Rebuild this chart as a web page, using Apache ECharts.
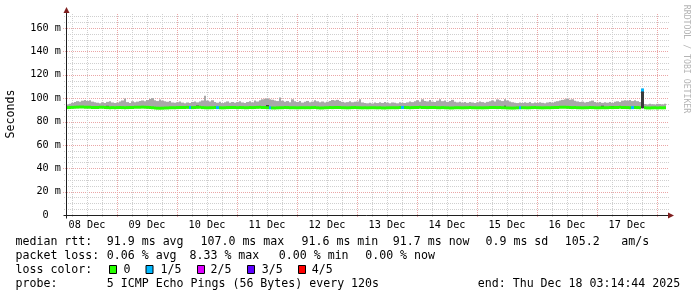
<!DOCTYPE html>
<html><head><meta charset="utf-8">
<script src="https://cdn.jsdelivr.net/npm/echarts@6/dist/echarts.min.js"></script>
<style>html,body{margin:0;padding:0;background:#fff}#c{width:697px;height:297px}</style>
</head><body><div id="c"></div>
<script>
// ---- data (x in hours after 08 Dec 00:00, one bin per hour) ----
const startHour = 3.6;
const spanHours = 240;
const yMax = 172;
const dayLabels = ['08 Dec','09 Dec','10 Dec','11 Dec','12 Dec','13 Dec','14 Dec','15 Dec','16 Dec','17 Dec'];
const dayLabelHours = [12,36,60,84,108,132,156,180,204,228];
const yTickValues = [0,20,40,60,80,100,120,140,160];

// max ping (top of smoke), ms, per hourly bin
const smokeTop = [
 94.6,95.2,96.0,96.8,97.4,96.9,97.8,98.4,97.6,98.2,97.0,96.5,96.1,95.7,96.4,95.9,96.8,97.3,96.3,95.8,96.2,97.1,98.0,99.6,
 96.6,95.9,97.3,96.5,97.0,97.6,98.0,97.3,98.4,99.2,100.0,98.1,97.5,98.8,97.9,97.3,96.9,97.5,96.3,96.0,96.5,97.1,96.2,95.7,
 96.3,95.9,96.7,97.1,96.4,97.2,98.0,102.0,97.9,97.1,98.2,96.6,96.1,96.9,95.8,96.5,97.2,96.1,96.7,96.0,96.6,97.4,96.3,95.9,
 96.7,97.3,96.4,97.9,97.1,98.2,99.0,99.4,99.8,99.0,98.6,98.0,97.5,100.6,97.8,96.9,97.5,96.5,99.0,97.3,96.7,97.5,96.2,96.9,
 97.6,96.4,97.0,98.3,97.3,96.5,97.1,96.3,96.9,97.6,98.4,97.9,98.5,97.5,96.8,96.2,96.6,97.3,96.5,96.9,97.1,99.0,96.3,95.9,
 95.6,96.0,95.5,96.2,95.8,96.4,95.9,96.6,96.1,95.7,96.3,96.0,95.6,96.5,96.0,95.8,96.4,97.1,96.6,97.4,98.2,97.0,99.0,97.6,
 97.2,98.4,97.0,96.6,97.8,99.0,97.4,98.0,96.8,97.5,98.5,97.0,96.4,96.9,96.2,96.6,96.0,96.7,96.3,95.9,96.4,97.2,96.6,96.1,
 96.8,97.4,98.0,97.2,98.9,98.2,97.5,99.0,98.0,97.2,96.5,96.0,95.8,96.3,95.9,96.4,96.0,96.6,95.7,96.2,95.9,96.5,96.0,95.6,
 96.3,96.8,96.2,97.0,97.4,97.9,98.5,99.1,99.6,98.6,99.0,97.8,97.2,96.6,97.0,96.3,96.7,97.4,97.9,96.8,96.2,96.6,96.0,96.4,
 96.1,96.7,96.0,96.9,97.3,96.7,97.8,98.3,97.9,98.5,97.5,98.2,97.4,96.8,108.0,95.0,94.6,95.3,94.8,94.5,95.1,94.9,94.7,95.2
];

// median rtt, ms, per hourly bin
const medianRtt = [
 91.9,92.0,92.1,92.2,92.3,92.4,92.4,92.3,92.2,92.1,92.0,91.9,92.0,92.1,92.2,92.0,91.9,91.8,91.9,91.8,91.9,92.0,91.9,91.8,
 91.9,92.0,92.0,92.1,92.2,92.3,92.3,92.2,92.1,92.0,91.8,91.6,91.4,91.3,91.4,91.5,91.6,91.7,91.8,91.8,91.9,91.9,92.0,92.0,
 92.1,92.0,91.9,92.0,92.2,92.1,91.9,91.8,91.7,91.8,91.8,91.9,91.9,91.8,91.7,91.8,91.9,92.0,92.0,91.9,91.8,91.9,91.9,91.8,
 91.8,91.9,91.9,92.0,92.1,92.1,92.0,91.9,91.8,91.7,91.6,91.6,91.7,91.8,91.8,91.9,91.9,91.8,91.8,91.7,91.7,91.8,91.8,91.7,
 91.8,91.8,91.9,91.9,91.7,91.6,91.6,91.7,91.8,91.9,91.9,92.0,92.0,91.9,91.8,91.7,91.7,91.8,91.9,91.9,91.8,91.7,91.7,91.7,
 91.7,91.7,91.8,91.8,91.7,91.7,91.6,91.6,91.7,91.8,91.8,91.7,91.8,91.9,92.0,92.0,91.9,91.8,91.9,91.9,92.0,92.1,92.0,91.9,
 91.9,92.0,92.0,91.9,91.8,91.8,91.9,91.8,91.7,91.6,91.6,91.7,91.8,91.7,91.7,91.8,91.8,91.9,91.8,91.8,91.7,91.7,91.7,91.8,
 91.8,91.9,92.0,92.0,91.9,91.9,91.8,91.7,91.6,91.5,91.5,91.6,91.7,91.7,91.8,91.8,91.7,91.8,91.9,91.9,91.8,91.7,91.7,91.7,
 91.8,91.8,91.9,91.9,92.0,92.1,92.2,92.2,92.1,92.0,91.9,91.9,91.8,91.8,91.7,91.7,91.8,91.9,91.9,91.8,91.7,91.7,91.8,91.8,
 91.8,91.9,91.9,92.0,92.0,92.1,92.0,91.9,91.9,91.8,91.9,92.0,91.9,91.8,107.0,91.7,91.6,91.6,91.7,91.7,91.6,91.7,91.7,91.7
];

// [bin, lost pings out of 5]
const lossEvents = [[49,1],[60,1],[81,1],[134,1],[181,1],[226,1],[230,1]];
// dense inner smoke [bin, low ms, high ms]
const innerSmoke = [[16,91.3,93.4],[52,91.3,93.6],[80,91.3,94.0],[175,91.3,93.4],[214,91.3,93.5],[218,91.3,93.3],[230,91.3,107.0]];

const lossColors = ['#26ff00','#00b8ff','#dd00ff','#5e00ff','#ff0000'];
const lossLabels = ['0','1/5','2/5','3/5','4/5'];
const rttStats = ['91.9 ms avg','107.0 ms max','91.6 ms min','91.7 ms now','0.9 ms sd','105.2','am/s'];
const lossStats = ['0.06 % avg','8.33 % max','0.00 % min','0.00 % now'];
const probeText = '5 ICMP Echo Pings (56 Bytes) every 120s';
const endText = 'end: Thu Dec 18 03:14:44 2025';

// ---- rendering ----
const MONO = '"DejaVu Sans Mono", "Liberation Mono", monospace';
const lossAt = {};
lossEvents.forEach(e => { lossAt[e[0]] = e[1]; });

const hGrid = []; for (let v = 5; v <= 170; v += 5) hGrid.push(v);
const vGrid = []; for (let h = 6; h <= 240; h += 6) vGrid.push(h);

const chart = echarts.init(document.getElementById('c'), null, {renderer: 'canvas'});
const GRID_MINOR = '#cfcfcf', GRID_MAJOR = '#eaa6a6';

const option = {
  animation: false,
  backgroundColor: '#ffffff',
  grid: {left: 66, top: 14, width: 600, height: 201},
  xAxis: {
    type: 'value', min: startHour, max: startHour + spanHours,
    axisLine: {show: false}, axisTick: {show: false}, splitLine: {show: false},
    axisLabel: {
      customValues: dayLabelHours,
      formatter: v => dayLabels[dayLabelHours.indexOf(v)] || '',
      fontFamily: MONO, fontSize: 10.2, color: '#000', margin: 5
    }
  },
  yAxis: {
    type: 'value', min: 0, max: yMax,
    axisLine: {show: false}, axisTick: {show: false}, splitLine: {show: false},
    axisLabel: {
      customValues: yTickValues,
      formatter: v => v === 0 ? '0  ' : v + ' m',
      fontFamily: MONO, fontSize: 10.2, color: '#000', margin: 5
    }
  },
  series: [
    { // horizontal grid
      type: 'custom', silent: true, z: 1,
      data: hGrid.map(v => [startHour, v]),
      renderItem: (params, api) => {
        const c = params.coordSys;
        const v = api.value(1);
        const major = v % 20 === 0;
        const y = Math.round(api.coord([startHour, v])[1]) + 0.5;
        return {type: 'line', shape: {x1: c.x - (major ? 3 : 2), y1: y, x2: c.x + c.width + 3, y2: y},
          style: {stroke: major ? GRID_MAJOR : GRID_MINOR, lineWidth: 1, lineDash: [1, 1]}};
      }
    },
    { // vertical grid
      type: 'custom', silent: true, z: 1,
      data: vGrid.map(h => [h, 0]),
      renderItem: (params, api) => {
        const c = params.coordSys;
        const h = api.value(0);
        const major = h % 24 === 0;
        const x = Math.round(api.coord([h, 0])[0]) + 0.5;
        return {type: 'line', shape: {x1: x, y1: c.y, x2: x, y2: c.y + c.height + (major ? 3 : 2)},
          style: {stroke: major ? GRID_MAJOR : GRID_MINOR, lineWidth: 1, lineDash: [1, 1]}};
      }
    },
    { // smoke (median .. max ping)
      type: 'custom', silent: true, z: 2,
      data: smokeTop.map((t, i) => [i, medianRtt[i], t]),
      renderItem: (params, api) => {
        const i = api.value(0), lo = api.value(1), hi = api.value(2);
        const p0 = api.coord([startHour + i, hi]);
        const p1 = api.coord([startHour + i + 1, lo]);
        const x0 = Math.round(p0[0]), x1 = Math.round(p1[0]);
        return {type: 'rect', shape: {x: x0, y: p0[1], width: x1 - x0, height: p1[1] - p0[1]},
          style: {fill: '#a8a8a8'}};
      }
    },
    { // inner dense smoke
      type: 'custom', silent: true, z: 3,
      data: innerSmoke,
      renderItem: (params, api) => {
        const i = api.value(0), lo = api.value(1), hi = api.value(2);
        const p0 = api.coord([startHour + i, hi]);
        const p1 = api.coord([startHour + i + 1, lo]);
        const x0 = Math.round(p0[0]), x1 = Math.round(p1[0]);
        return {type: 'rect', shape: {x: x0, y: p0[1], width: x1 - x0, height: p1[1] - p0[1]},
          style: {fill: '#3a3a3a'}};
      }
    },
    { // median, coloured by loss
      type: 'custom', silent: true, z: 4,
      data: medianRtt.map((m, i) => [i, m, lossAt[i] || 0]),
      renderItem: (params, api) => {
        const i = api.value(0), m = api.value(1), loss = api.value(2);
        const p0 = api.coord([startHour + i, m]);
        const p1 = api.coord([startHour + i + 1, m]);
        const x0 = Math.round(p0[0]), x1 = Math.round(p1[0]);
        return {type: 'rect', shape: {x: x0, y: p0[1] - 1.5, width: x1 - x0, height: 3},
          style: {fill: lossColors[loss]}};
      }
    }
  ]
};
chart.setOption(option);

// ---- axes, arrows, texts ----
const o = chart.convertToPixel({gridIndex: 0}, [startHour, 0]);
const e = chart.convertToPixel({gridIndex: 0}, [startHour + spanHours, yMax]);
const ax = Math.round(o[0]) + 0.5, ay = Math.round(o[1]) + 0.5;
const g = [];
g.push({type: 'line', silent: true, z: 50, shape: {x1: ax - 3, y1: ay, x2: e[0] + 3, y2: ay}, style: {stroke: '#1f1f1f', lineWidth: 1}});
g.push({type: 'line', silent: true, z: 50, shape: {x1: ax, y1: ay + 3, x2: ax, y2: e[1] - 3}, style: {stroke: '#1f1f1f', lineWidth: 1}});
g.push({type: 'polygon', silent: true, z: 51, shape: {points: [[ax - 3, e[1] - 1], [ax + 3, e[1] - 1], [ax, e[1] - 7]]}, style: {fill: '#7f1f1f'}});
g.push({type: 'polygon', silent: true, z: 51, shape: {points: [[e[0] + 2, ay - 3], [e[0] + 2, ay + 3], [e[0] + 8, ay]]}, style: {fill: '#7f1f1f'}});

function txt(s, x, y, opts) {
  opts = opts || {};
  return Object.assign({type: 'text', silent: true, z: 60, x: x, y: y,
    style: {text: s, x: 0, y: 0, fill: opts.fill || '#000', font: (opts.size || 11.6) + 'px ' + MONO,
      align: opts.align || 'left', verticalAlign: 'middle', textAlign: opts.align || 'left', textVerticalAlign: 'middle'}},
    opts.rotation !== undefined ? {rotation: opts.rotation} : {});
}
g.push(txt('Seconds', 10.5, 114, {align: 'center', rotation: Math.PI / 2}));
g.push(txt('RRDTOOL / TOBI OETIKER', 686.5, 59, {align: 'center', rotation: -Math.PI / 2, size: 8.2, fill: '#b4b4b4'}));

const L1 = 241.5, L2 = 255.5, L3 = 269.5, L4 = 283.5;
g.push(txt('median rtt:', 15.5, L1));
const rttX = [106.8, 200.5, 301.5, 392.8, 485.5, 564.8, 621.2];
rttStats.forEach((s, k) => g.push(txt(s, rttX[k], L1)));
g.push(txt('packet loss:', 15.5, L2));
const lossX = [106.8, 189.5, 278.8, 365.2];
lossStats.forEach((s, k) => g.push(txt(s, lossX[k], L2)));
g.push(txt('loss color:', 15.5, L3));
const boxX = [109, 145.5, 197, 247, 298];
const lblX = [123.5, 160.5, 210.5, 261.8, 311.8];
lossColors.forEach((c, k) => {
  g.push({type: 'rect', silent: true, z: 60, shape: {x: boxX[k] + 0.5, y: L3 - 4, width: 7, height: 8}, style: {fill: c, stroke: '#000', lineWidth: 1}});
  g.push(txt(lossLabels[k], lblX[k], L3));
});
g.push(txt('probe:', 15.5, L4));
g.push(txt(probeText, 106.8, L4));
g.push(txt(endText, 477.8, L4));

chart.setOption({graphic: g});
</script>
</body></html>
